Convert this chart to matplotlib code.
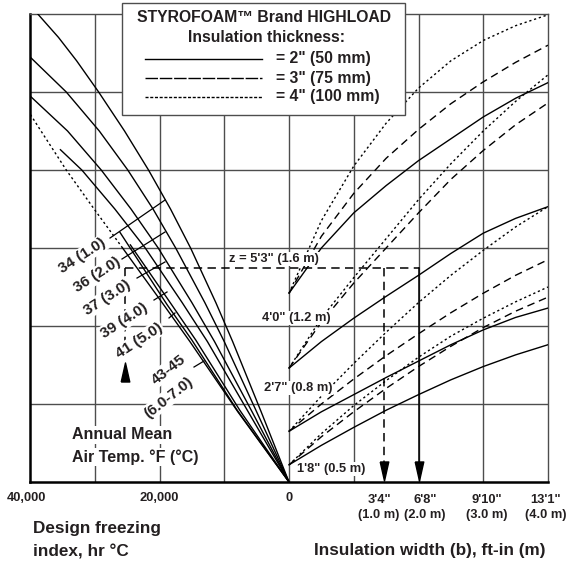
import matplotlib
matplotlib.use('Agg')
import matplotlib.pyplot as plt
from matplotlib.patches import Rectangle
from matplotlib.lines import Line2D

plt.rcParams['font.family'] = ['Liberation Sans', 'DejaVu Sans']
INK = '#231f20'
GRID = '#4d4d4d'

# ---------------- data ----------------
# Left quadrant: design freezing index (hr °C) vs chart height (grid units)
h_34 = [0, 0.9, 1.8, 2.3, 3.0, 3.5, 4.0, 4.5, 5.0, 5.4, 5.7, 6.0]
fi_34 = [0, 4300, 8700, 11300, 15200, 18300, 21700, 25400, 29400, 32800, 35600, 38800]
h_36 = [0, 0.9, 1.8, 2.3, 3.0, 3.5, 4.0, 4.5, 5.0, 5.45]
fi_36 = [0, 5000, 10000, 13000, 17500, 21000, 24900, 29300, 34400, 40000]
h_37 = [0, 0.9, 1.8, 2.3, 3.0, 3.5, 4.0, 4.5, 4.95]
fi_37 = [0, 5700, 11500, 15000, 20200, 24400, 29000, 34200, 40000]
h_39 = [0, 0.9, 1.8, 2.3, 3.0, 3.5, 4.0, 4.26]
fi_39 = [0, 6300, 12600, 16500, 22200, 26900, 32000, 35300]
h_41 = [0, 0.92, 1.82, 2.27, 3.2]
fi_41 = [0, 8000, 15000, 18800, 26100]
h_43 = [0, 0.92, 1.82, 2.27, 3.04]
fi_43 = [0, 7600, 14400, 18100, 24500]
h_45 = [0, 0.9, 1.8, 2.3, 3.0, 3.5, 4.0, 4.5, 4.72]
fi_45 = [0, 7900, 15300, 19600, 25700, 30100, 34400, 38300, 40000]
dotted_from = 4  # index where the 45 F curve turns dotted

# Right quadrant: insulation width (m) vs chart height, per depth z and thickness
width_m = [0, 0.5, 1, 1.5, 2, 2.5, 3, 3.5, 4]
z16_2in = [2.42, 3.00, 3.45, 3.80, 4.12, 4.40, 4.68, 4.92, 5.12]
z16_3in = [2.42, 3.15, 3.70, 4.15, 4.52, 4.85, 5.13, 5.38, 5.60]
z16_4in = [2.42, 3.35, 4.05, 4.60, 5.05, 5.40, 5.66, 5.85, 5.99]
z12_2in = [1.46, 1.80, 2.10, 2.38, 2.65, 2.93, 3.19, 3.38, 3.53]
z12_3in = [1.46, 2.05, 2.55, 3.00, 3.45, 3.88, 4.25, 4.58, 4.86]
z12_4in = [1.46, 2.10, 2.62, 3.12, 3.62, 4.08, 4.50, 4.88, 5.22]
z08_2in = [0.65, 0.90, 1.12, 1.34, 1.55, 1.76, 1.95, 2.11, 2.23]
z08_3in = [0.65, 1.00, 1.32, 1.62, 1.90, 2.17, 2.42, 2.65, 2.85]
z08_4in = [0.65, 1.10, 1.52, 1.92, 2.30, 2.65, 2.97, 3.27, 3.53]
z05_2in = [0.22, 0.47, 0.70, 0.92, 1.12, 1.31, 1.48, 1.63, 1.76]
z05_3in = [0.22, 0.58, 0.90, 1.20, 1.48, 1.74, 1.98, 2.19, 2.37]
z05_4in = [0.22, 0.62, 0.98, 1.30, 1.60, 1.87, 2.10, 2.31, 2.50]

depth_labels = ['1\'8" (0.5 m)', '2\'7" (0.8 m)', '4\'0" (1.2 m)', 'z = 5\'3" (1.6 m)']
depth_label_pos = [(0.649, 0.167), (0.139, 1.205), (0.108, 2.103), (-0.232, 2.859)]

maat_text = ['34 (1.0)', '36 (2.0)', '37 (3.0)', '39 (4.0)', '41 (5.0)']
maat_text_pos = [(-3.197, 2.897), (-2.965, 2.654), (-2.811, 2.359), (-2.548, 2.064), (-2.317, 1.808)]
leader_x = [(-2.764, -1.915), (-2.579, -1.915), (-2.347, -1.915), (-2.085, -1.884), (-1.853, -1.761), (-1.467, -1.313)]
leader_y = [(3.128, 3.615), (2.859, 3.205), (2.615, 2.821), (2.333, 2.436), (2.103, 2.167), (1.474, 1.551)]

x_ticks_left = [40000, 20000, 0]
x_ticks_right_pos = [1.39, 2.10, 3.06, 3.97]
x_ticks_right_ft = ['3\'4"', '6\'8"', '9\'10"', '13\'1"']
x_ticks_right_m = ['(1.0 m)', '(2.0 m)', '(3.0 m)', '(4.0 m)']

# worked example
example_fi = 25300
example_h = 2.744
example_widths = [1.46, 2.0]

legend_labels = ['= 2" (50 mm)', '= 3" (75 mm)', '= 4" (100 mm)']

# ---------------- figure ----------------
fig = plt.figure(figsize=(5.66, 5.63), dpi=100)
W, H = 566, 563
ax = fig.add_axes([30 / W, 1 - 482 / H, 518 / W, 468 / H])
ax.set_xlim(-4, 4)
ax.set_ylim(0, 6)
ax.set_xticks([])
ax.set_yticks([])
for s in ['left', 'bottom']:
    ax.spines[s].set_linewidth(1.8)
    ax.spines[s].set_color('black')
for s in ['top', 'right']:
    ax.spines[s].set_linewidth(1.0)
    ax.spines[s].set_color(GRID)

for gx in [-3, -2, -1, 0, 1, 2, 3]:
    ax.axvline(gx, color=GRID, lw=1.0, zorder=1)
for gy in [1, 2, 3, 4, 5]:
    ax.axhline(gy, color=GRID, lw=1.0, zorder=1)

DASH = (0, (5.5, 3.5))
DOT = (0, (1.6, 2.0))
CLW = 1.0

def left(fi):
    return [-v / 10000 for v in fi]

for fi, h in [(fi_34, h_34), (fi_36, h_36), (fi_37, h_37), (fi_39, h_39),
              (fi_41, h_41), (fi_43, h_43)]:
    ax.plot(left(fi), h, color='black', lw=CLW, zorder=3)
ax.plot(left(fi_45[:dotted_from + 1]), h_45[:dotted_from + 1], color='black', lw=CLW, zorder=3)
ax.plot(left(fi_45[dotted_from:]), h_45[dotted_from:], color='black', lw=CLW, ls=DOT, zorder=3)

for y2, y3, y4 in [(z16_2in, z16_3in, z16_4in), (z12_2in, z12_3in, z12_4in),
                   (z08_2in, z08_3in, z08_4in), (z05_2in, z05_3in, z05_4in)]:
    ax.plot(width_m, y2, color='black', lw=CLW, zorder=3)
    ax.plot(width_m, y3, color='black', lw=CLW, ls=DASH, zorder=3)
    ax.plot(width_m, y4, color='black', lw=CLW, ls=DOT, zorder=3)

# leaders
for lx, ly in zip(leader_x, leader_y):
    ax.plot(lx, ly, color='black', lw=0.9, zorder=3)

# worked example lines
ex_x = -example_fi / 10000
ax.plot([ex_x, example_widths[1]], [example_h, example_h], color='black', lw=1.1, ls=DASH, zorder=4)
ax.plot([ex_x, ex_x], [example_h, 1.54], color='black', lw=1.1, ls=DASH, zorder=2)
ax.plot([example_widths[0]] * 2, [example_h, 0.26], color='black', lw=1.1, ls=DASH, zorder=4)
ax.plot([example_widths[1]] * 2, [example_h, 0.26], color='black', lw=1.1, zorder=4)
down = [(-0.45, 1), (0.45, 1), (0, -1), (-0.45, 1)]
up = [(-0.45, -1), (0.45, -1), (0, 1), (-0.45, -1)]
ax.plot(example_widths, [0.135, 0.135], ls='none', marker=down, markersize=13.7,
        color='black', zorder=5)
ax.plot([ex_x], [1.404], ls='none', marker=up, markersize=13.7, color='black', zorder=5)

# texts
wb = dict(facecolor='white', edgecolor='none', pad=1.0)
for t, (x, y) in zip(maat_text, maat_text_pos):
    ax.text(x, y, t, rotation=33, ha='center', va='center', rotation_mode='anchor',
            fontsize=11, fontweight='bold', color=INK, bbox=wb, zorder=6)
ax.text(-1.865, 1.44, '43-45', rotation=38, ha='center', va='center', rotation_mode='anchor',
        fontsize=11, fontweight='bold', color=INK, bbox=wb, zorder=6)
ax.text(-1.865, 1.08, '(6.0-7.0)', rotation=38, ha='center', va='center', rotation_mode='anchor',
        fontsize=11, fontweight='bold', color=INK, bbox=wb, zorder=6)
ax.text(-3.351, 0.603, 'Annual Mean', ha='left', va='center', fontsize=11.5,
        fontweight='bold', color=INK, bbox=wb, zorder=6)
ax.text(-3.351, 0.321, 'Air Temp. °F (°C)', ha='left', va='center', fontsize=11.5,
        fontweight='bold', color=INK, bbox=wb, zorder=6)
for t, (x, y) in zip(depth_labels, depth_label_pos):
    ax.text(x, y, t, ha='center', va='center', fontsize=9.3, fontweight='bold',
            color=INK, bbox=dict(facecolor='white', edgecolor='none', pad=0.6), zorder=6)

# tick labels
for v in x_ticks_left:
    x = -v / 10000
    if v == 40000:
        x = -4.05
    ax.text(x, -0.205, f'{v:,}', ha='center', va='center', fontsize=9.3,
            fontweight='bold', color=INK)
for x, a, b in zip(x_ticks_right_pos, x_ticks_right_ft, x_ticks_right_m):
    ax.text(x, -0.23, a, ha='center', va='center', fontsize=9.3, fontweight='bold', color=INK)
    ax.text(x, -0.42, b, ha='center', va='center', fontsize=9.3, fontweight='bold', color=INK)

fig.text(33 / W, 1 - 528 / H, 'Design freezing', ha='left', va='center',
         fontsize=12.3, fontweight='bold', color=INK)
fig.text(33 / W, 1 - 552 / H, 'index, hr °C', ha='left', va='center',
         fontsize=12.3, fontweight='bold', color=INK)
fig.text(430 / W, 1 - 550 / H, 'Insulation width (b), ft-in (m)', ha='center', va='center',
         fontsize=12.3, fontweight='bold', color=INK)

# legend box
fig.add_artist(Rectangle((122 / W, 1 - 115 / H), 283 / W, 112 / H, transform=fig.transFigure,
                         facecolor='white', edgecolor=GRID, lw=1.0, zorder=10))
fig.text(264 / W, 1 - 17 / H, 'STYROFOAM™ Brand HIGHLOAD', ha='center', va='center',
         fontsize=11.3, fontweight='bold', color=INK, zorder=11)
fig.text(267 / W, 1 - 38 / H, 'Insulation thickness:', ha='center', va='center',
         fontsize=11.3, fontweight='bold', color=INK, zorder=11)
for i, (lab, ls) in enumerate(zip(legend_labels, ['-', (0, (9, 1.3)), (0, (2.2, 1.2))])):
    yy = 1 - (59 + 19 * i) / H
    fig.add_artist(Line2D([145 / W, 262 / W], [yy, yy], transform=fig.transFigure,
                          color='black', lw=1.0, ls=ls, zorder=11))
    fig.text(276 / W, yy, lab, ha='left', va='center', fontsize=11.3,
             fontweight='bold', color=INK, zorder=11)

fig.savefig('out.png', dpi=100)
